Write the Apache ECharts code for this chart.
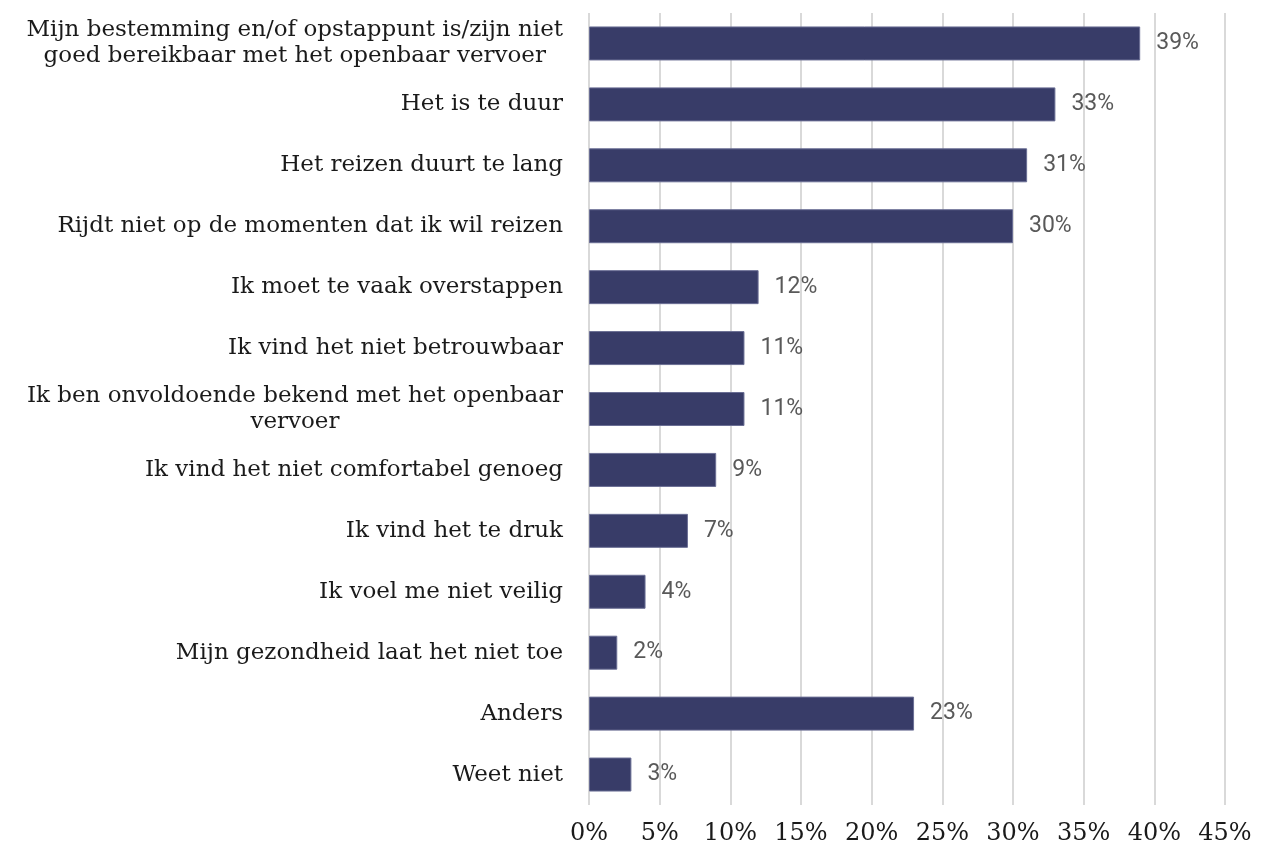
<!DOCTYPE html>
<html>
<head>
<meta charset="utf-8">
<script src="https://cdn.jsdelivr.net/npm/echarts@6/dist/echarts.min.js"></script>
<style>
  html, body { margin: 0; padding: 0; background: #ffffff; }
  #chart { width: 1269px; height: 848px; }
</style>
</head>
<body>
<div id="chart"></div>
<script>
// Reasons for not using public transport (share of respondents, %)
const categories = [
  'Mijn bestemming en/of opstappunt is/zijn niet\ngoed bereikbaar met het openbaar vervoer',
  'Het is te duur',
  'Het reizen duurt te lang',
  'Rijdt niet op de momenten dat ik wil reizen',
  'Ik moet te vaak overstappen',
  'Ik vind het niet betrouwbaar',
  'Ik ben onvoldoende bekend met het openbaar\nvervoer',
  'Ik vind het niet comfortabel genoeg',
  'Ik vind het te druk',
  'Ik voel me niet veilig',
  'Mijn gezondheid laat het niet toe',
  'Anders',
  'Weet niet'
];
const values = [39, 33, 31, 30, 12, 11, 11, 9, 7, 4, 2, 23, 3];
const axisMax = 45;
const axisStep = 5;

const serif = 'DejaVu Serif';
const chart = echarts.init(document.getElementById('chart'), null, { renderer: 'canvas' });

chart.setOption({
  animation: false,
  backgroundColor: '#ffffff',
  grid: { left: 589, right: 44, top: 13, bottom: 43, containLabel: false },
  xAxis: {
    type: 'value',
    min: 0,
    max: axisMax,
    interval: axisStep,
    axisLine: { show: false },
    axisTick: { show: false },
    splitLine: { show: true, lineStyle: { color: '#d9d9d9', width: 2 } },
    axisLabel: {
      formatter: '{value}%',
      margin: 17,
      fontFamily: serif,
      fontSize: 24,
      color: '#1a1a1a'
    }
  },
  yAxis: {
    type: 'category',
    inverse: true,
    data: categories,
    axisLine: { show: false },
    axisTick: { show: false },
    splitLine: { show: false },
    axisLabel: {
      margin: 26,
      align: 'right',
      fontFamily: serif,
      fontSize: 23,
      lineHeight: 26,
      color: '#1a1a1a',
      // each line centred inside the right-aligned label block
      formatter: (v) => v.split('\n').map((s) => '{c|' + s + '}').join('\n'),
      rich: {
        c: { align: 'center', fontFamily: serif, fontSize: 23, lineHeight: 26, color: '#1a1a1a' }
      }
    }
  },
  series: [{
    type: 'bar',
    data: values,
    barWidth: 34,
    itemStyle: { color: '#383c68', borderColor: '#6a6e94', borderWidth: 1 },
    label: {
      show: true,
      position: 'right',
      distance: 16,
      formatter: '{c}%',
      fontFamily: 'Roboto',
      fontSize: 23,
      color: '#595959'
    }
  }]
});
</script>
</body>
</html>
